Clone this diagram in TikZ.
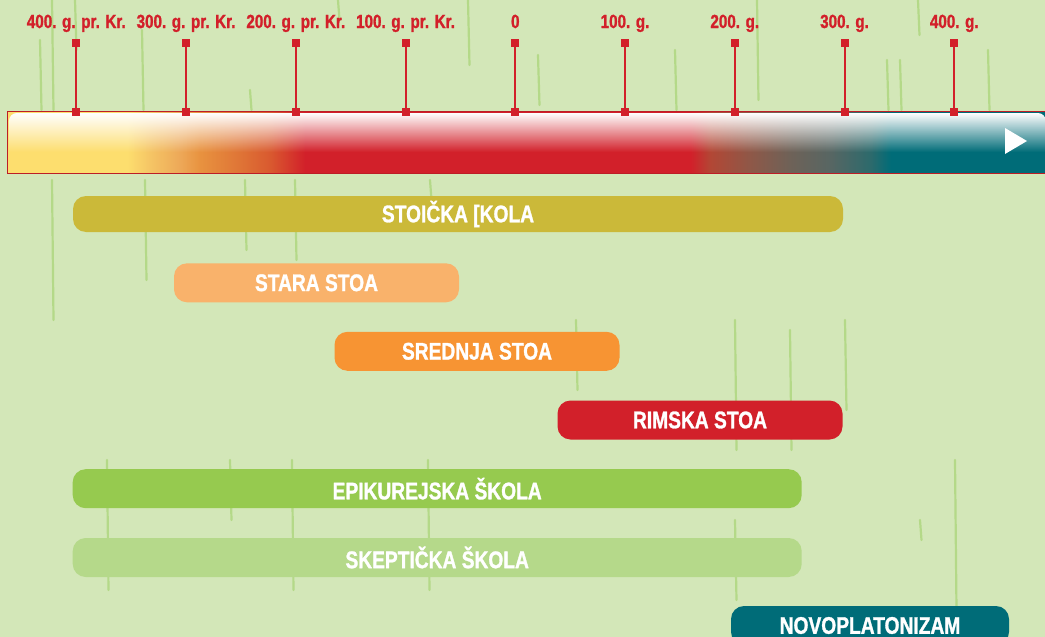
\documentclass[tikz,border=0pt]{standalone}
\usepackage{fontspec}
\setmainfont{Liberation Sans}[FakeStretch=0.8, BoldFeatures={FakeBold=1.2}]
\usetikzlibrary{fadings}

\definecolor{bggreen}{HTML}{D3E7B8}
\definecolor{scribble}{HTML}{B4D988}
\definecolor{tickred}{HTML}{D2202A}
\definecolor{stoic}{HTML}{CBB939}
\definecolor{oldstoa}{HTML}{F9B26B}
\definecolor{midstoa}{HTML}{F79433}
\definecolor{romstoa}{HTML}{D2202A}
\definecolor{epicur}{HTML}{96CA4F}
\definecolor{skeptic}{HTML}{B5D98A}
\definecolor{neoplat}{HTML}{006C78}
\definecolor{tl1}{HTML}{FDDE6E}
\definecolor{tl2}{HTML}{F5C565}
\definecolor{tl3}{HTML}{EDA858}
\definecolor{tl4}{HTML}{E8923F}
\definecolor{tl5}{HTML}{DF7436}
\definecolor{tl6}{HTML}{D9592F}
\definecolor{tl7}{HTML}{B24735}
\definecolor{tl8}{HTML}{8E5848}
\definecolor{tl9}{HTML}{6E6258}
\definecolor{tl10}{HTML}{576663}
\definecolor{tl11}{HTML}{2C6A6C}

\pgfdeclarehorizontalshading{timeline}{100bp}{%
  color(0bp)=(tl1); color(30.78bp)=(tl1); color(31.89bp)=(tl2);
  color(33.33bp)=(tl3); color(34.3bp)=(tl4); color(36.22bp)=(tl5);
  color(37.67bp)=(tl6); color(39.35bp)=(tickred); color(57.9bp)=(tickred);
  color(58.86bp)=(tl7); color(60.79bp)=(tl8); color(62.72bp)=(tl9);
  color(64.64bp)=(tl10); color(66.57bp)=(tl11); color(67.53bp)=(neoplat);
  color(100bp)=(neoplat)}
\tikzfading[name=glossfade, top color=transparent!0, bottom color=transparent!100]

\begin{document}
\begin{tikzpicture}[x=1pt,y=-1pt,
		tickbox/.style={fill=tickred, minimum size=8pt, inner sep=0pt},
		tickline/.style={draw=tickred, line width=2pt},
		yearlbl/.style={anchor=base, text=tickred, font=\fontsize{19}{19}\selectfont\bfseries, inner sep=0pt},
		phase/.style={rounded corners=13pt, minimum height=39pt, inner sep=0pt, text=white,
			font=\fontsize{24}{24}\selectfont\bfseries},
		scrib/.style={draw=scribble, line width=2.2pt, line cap=round}]
		\path[use as bounding box, clip] (0,0) rectangle (1045,637);
		\fill[bggreen] (0,0) rectangle (1045,637);
		% background scribbles
		\foreach \sx/\sa/\sb in {40/40/110, 52/0/110, 52/180/320, 75/0/50, 107/460/590, 142/30/110,
			145/180/280, 230/460/520, 245/180/250, 250/90/110, 292/460/590, 295/180/260, 338/0/20,
			428/460/590, 430/180/200, 468/0/65, 538/55/105, 576/320/390, 675/50/110, 735/320/450,
			735/520/600, 757/0/100, 790/330/450, 845/320/410, 887/60/110, 900/60/110, 918/0/35,
			920/520/540, 955/460/610, 988/50/110}
			\draw[scrib] (\sx,\sa) -- (\sx+1.5,\sb);
		% time bar
		\shade[shading=timeline] (7,111) rectangle (1046,173);
		\fill[white, path fading=glossfade] (9,152) -- (9,121) [rounded corners=8pt] -- (9,113) -- (1046,113) [sharp corners] -- (1046,152) -- cycle;
		\draw[tickred!90!black, line width=1pt] (7,111) rectangle (1046,173);
		\fill[white] (1005,128) -- (1027,141) -- (1005,154) -- cycle;
		% years
		\foreach \lbl [count=\i from 0] in {400. g. pr. Kr., 300. g. pr. Kr., 200. g. pr. Kr.,
			100. g. pr. Kr., 0, 100. g., 200. g., 300. g., 400. g.}{
			\pgfmathsetmacro\xx{76.3+109.75*\i}
			\node[tickbox] (top\i) at (\xx,43) {};
			\node[tickbox] (bot\i) at (\xx,112) {};
			\draw[tickline] (top\i) -- (bot\i);
			\node[yearlbl] (year\i) at (\xx,28) {\lbl};
		}
		% schools
		\node[phase, fill=stoic, minimum width=770pt, minimum height=36pt] (stoa) at (458,214) {STOIČKA [KOLA};
		\node[phase, fill=oldstoa, minimum width=285pt] (old) at (316.5,282.8) {STARA STOA};
		\node[phase, fill=midstoa, minimum width=285pt] (middle) at (477,351.3) {SREDNJA STOA};
		\node[phase, fill=romstoa, minimum width=285pt] (roman) at (700,420) {RIMSKA STOA};
		\node[phase, fill=epicur, minimum width=729pt] (epicurean) at (437.2,488.7) {EPIKUREJSKA ŠKOLA};
		\node[phase, fill=skeptic, minimum width=729pt] (skeptic) at (437.2,557.5) {SKEPTIČKA ŠKOLA};
		\node[phase, fill=neoplat, minimum width=278pt] (neoplatonism) at (870,625.5) {NOVOPLATONIZAM};
		\end{tikzpicture}
\end{document}
